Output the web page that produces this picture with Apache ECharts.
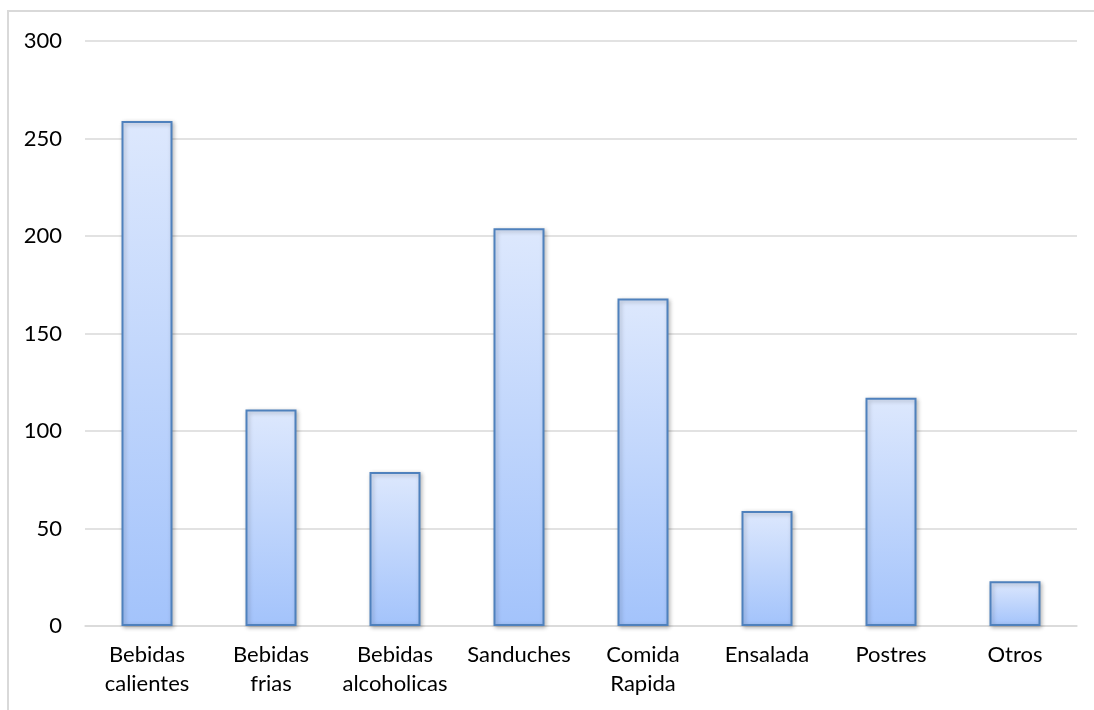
<!DOCTYPE html>
<html>
<head>
<meta charset="utf-8">
<script src="https://cdn.jsdelivr.net/npm/echarts@6/dist/echarts.min.js"></script>
<style>
  html, body { margin: 0; padding: 0; background: #ffffff; }
  #chart { width: 1094px; height: 710px; }
</style>
</head>
<body>
<div id="chart"></div>
<script>
// Sales count per menu category
const categories = [
  'Bebidas\ncalientes', 'Bebidas\nfrias', 'Bebidas\nalcoholicas', 'Sanduches',
  'Comida\nRapida', 'Ensalada', 'Postres', 'Otros'
];
const values = [259, 111, 79, 204, 168, 59, 117, 23];
const yTicks = { min: 0, max: 300, interval: 50 };

const chart = echarts.init(document.getElementById('chart'), null, { renderer: 'canvas' });

const labelFont = 'Lato, "Open Sans", "DejaVu Sans", sans-serif';

chart.setOption({
  animation: false,
  backgroundColor: '#ffffff',
  // chart-area frame: only the left and top edges fall inside the page
  graphic: [{
    type: 'polyline',
    silent: true,
    shape: { points: [[8, 720], [8, 11], [1110, 11]] },
    style: { fill: 'none', stroke: '#d9d9d9', lineWidth: 2 }
  }],
  grid: { left: 85, right: 17, top: 41, bottom: 84, containLabel: false },
  xAxis: {
    type: 'category',
    data: categories,
    axisTick: { show: false },
    axisLine: { lineStyle: { color: '#d9d9d9', width: 1.5 } },
    axisLabel: {
      color: '#000000',
      fontFamily: labelFont,
      fontSize: 22,
      lineHeight: 29,
      margin: 14,
      interval: 0
    }
  },
  yAxis: {
    type: 'value',
    min: yTicks.min,
    max: yTicks.max,
    interval: yTicks.interval,
    axisLine: { show: false },
    axisTick: { show: false },
    splitLine: { lineStyle: { color: '#d9d9d9', width: 1.5 } },
    axisLabel: {
      color: '#000000',
      fontFamily: labelFont,
      fontSize: 22,
      margin: 23
    }
  },
  series: [{
    type: 'bar',
    data: values,
    barWidth: 51,
    itemStyle: {
      color: {
        type: 'linear', x: 0, y: 0, x2: 0, y2: 1,
        colorStops: [
          { offset: 0, color: '#dde8fd' },
          { offset: 1, color: '#a3c3fb' }
        ]
      },
      borderColor: '#4f81bd',
      borderWidth: 2,
      shadowColor: 'rgba(0,0,0,0.25)',
      shadowBlur: 4,
      shadowOffsetX: 1.5,
      shadowOffsetY: 1.5
    }
  }]
});
</script>
</body>
</html>
